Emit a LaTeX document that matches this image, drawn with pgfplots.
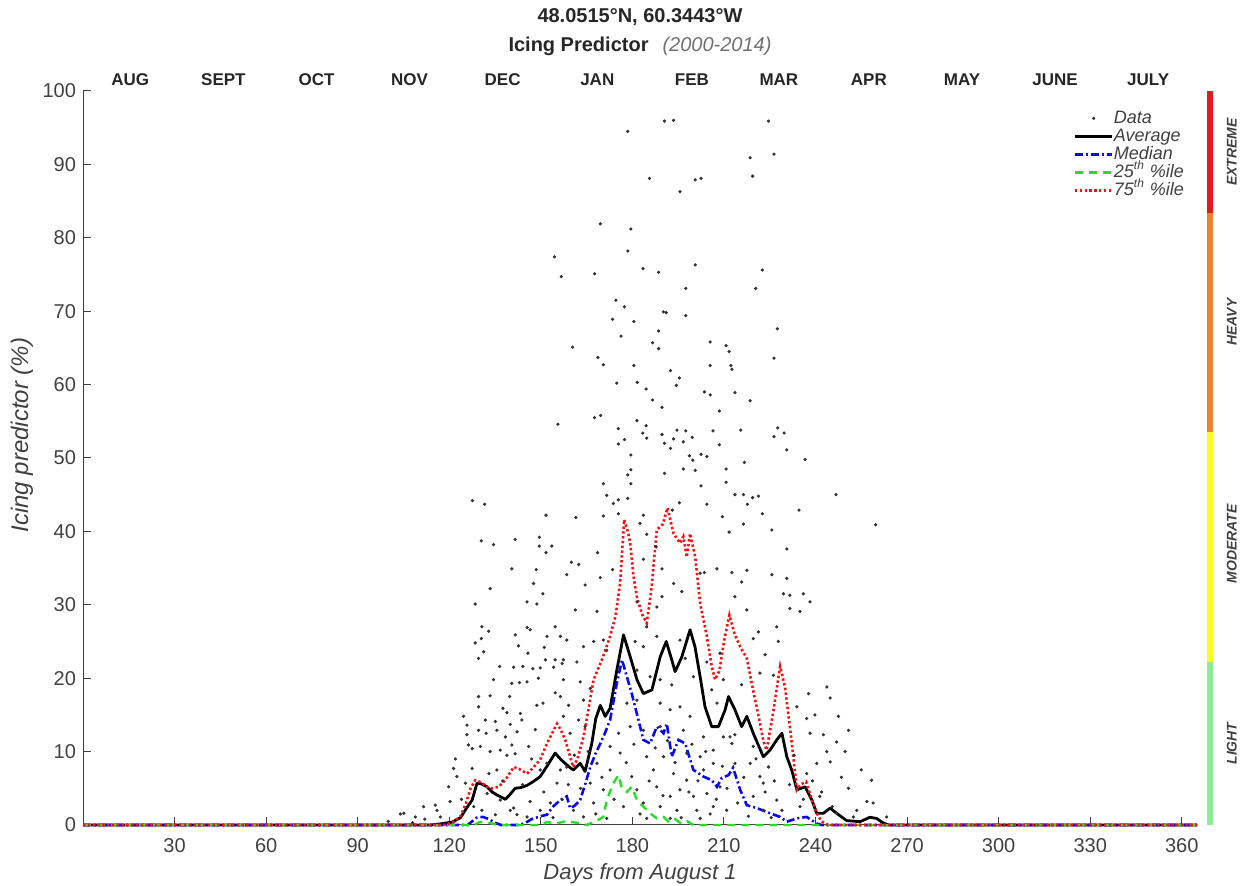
\documentclass[border=0pt]{standalone}
\usepackage{pgfplots}
\pgfplotsset{compat=1.18}
\usepackage{pgfplotstable}
\usepackage{fontspec}
\setmainfont{Liberation Sans}
\definecolor{tickgray}{RGB}{64,64,64}
\definecolor{barred}{RGB}{228,26,28}
\definecolor{barorange}{RGB}{240,130,45}
\definecolor{baryellow}{RGB}{250,250,40}
\definecolor{bargreen}{RGB}{140,235,150}
\definecolor{medblue}{RGB}{10,10,235}
\definecolor{pgreen}{RGB}{40,220,40}
\definecolor{pred}{RGB}{240,20,20}

\pgfplotstableread{
d v
178.5 94.5
190.5 95.9
193.5 96.0
224.6 95.9
218.6 90.9
226.4 91.4
185.6 88.1
200.6 87.9
202.5 88.1
219.4 88.4
195.6 86.3
169.5 81.9
179.5 81.2
178.5 78.2
154.5 77.4
156.7 74.7
167.6 75.1
183.5 75.8
188.6 75.3
200.6 76.3
222.6 75.6
197.5 73.1
220.4 73.1
174.6 71.5
177.4 70.6
190.2 69.9
191.1 69.8
197.5 69.4
173.5 68.9
180.5 68.6
188.6 67.3
227.5 67.6
176.3 66.6
160.4 65.1
186.6 65.7
188.6 64.9
205.5 65.8
210.7 65.3
211.7 64.5
168.7 63.7
170.5 62.7
180.5 62.6
205.5 62.6
212.3 62.6
212.6 62.1
226.4 63.6
192.5 61.9
195.4 60.9
174.9 60.2
181.6 60.3
194.4 59.9
184.5 59.4
203.6 59.0
205.5 58.6
213.6 58.9
186.6 57.9
218.6 57.8
189.7 56.9
208.5 56.4
167.6 55.5
169.6 55.8
181.5 55.1
155.6 54.6
184.5 54.4
175.4 54.0
194.6 53.8
197.5 53.7
206.4 53.7
215.5 53.8
227.6 54.1
229.7 53.4
183.4 53.4
189.7 53.2
226.4 52.9
184.7 52.7
193.5 52.6
199.6 52.8
177.4 52.5
175.4 51.9
190.5 52.0
196.7 52.2
192.5 51.3
208.5 51.8
230.6 51.1
179.5 50.4
198.7 50.3
202.5 50.5
204.4 50.2
199.8 49.7
236.6 49.8
216.7 49.4
179.5 48.4
196.7 48.5
200.6 48.3
210.7 48.5
178.5 47.7
190.5 47.9
210.7 46.7
170.5 46.5
179.5 46.5
202.5 46.2
127.6 44.2
131.6 43.7
171.6 44.9
175.4 44.3
178.5 44.5
213.6 45.0
216.4 45.0
219.4 44.6
221.3 44.8
246.7 45.0
173.8 43.8
204.4 43.7
217.7 43.7
195.4 43.9
193.1 42.9
151.7 42.2
161.5 41.9
170.5 42.1
175.4 42.4
183.6 42.2
209.5 42.0
222.6 42.4
234.6 42.9
182.5 41.1
216.4 41.0
259.7 40.9
225.7 40.2
211.7 39.9
130.5 38.7
134.5 38.2
141.6 38.9
149.5 39.2
149.5 38.0
153.6 38.0
184.7 39.6
187.8 37.9
230.6 37.6
151.7 37.1
168.6 37.1
183.6 36.2
160.0 35.8
162.4 35.5
189.7 34.9
140.5 34.9
148.5 34.8
207.7 34.9
212.6 34.4
217.5 34.7
225.7 34.1
230.6 33.6
158.5 34.1
169.5 33.7
173.5 34.8
202.2 34.3
203.6 34.4
133.4 32.2
147.6 32.9
150.7 31.5
128.5 30.1
145.5 30.4
148.7 30.1
130.7 27.0
132.9 26.4
145.5 26.9
146.5 26.6
141.6 25.9
154.7 27.0
152.0 25.7
156.4 25.7
158.5 25.2
128.5 24.8
130.5 25.4
131.3 23.6
129.6 22.7
142.7 24.4
151.1 24.2
145.8 23.4
151.5 22.5
154.7 22.5
157.4 22.5
136.5 21.6
141.1 21.5
144.1 21.6
147.4 21.3
149.8 21.4
154.2 21.5
134.5 19.8
140.5 19.3
143.0 19.4
145.5 19.5
149.2 20.0
157.4 19.8
129.6 17.5
133.4 17.6
139.8 17.5
148.7 16.3
150.7 16.6
154.7 18.0
156.4 17.5
124.7 14.8
129.6 16.1
137.6 15.9
138.9 15.3
143.3 15.2
125.8 13.6
131.8 14.3
135.1 14.1
140.0 13.7
143.8 14.3
125.8 12.3
129.6 12.9
132.1 12.5
135.6 12.9
138.4 12.0
142.2 12.7
148.2 13.0
126.3 10.9
127.5 10.4
130.2 10.7
133.4 10.0
136.7 10.2
140.5 10.9
146.0 10.7
121.4 7.7
127.5 7.7
135.6 7.5
138.9 9.5
141.6 9.7
122.5 6.6
119.8 5.2
125.3 5.7
132.4 4.3
136.7 3.4
140.0 2.0
141.1 2.3
146.5 3.2
120.3 3.2
111.6 2.5
115.4 2.7
116.0 2.0
105.1 1.6
108.9 1.1
117.1 1.1
130.7 2.0
135.1 1.4
142.2 1.4
145.5 1.1
149.8 2.0
153.1 3.0
155.3 5.7
156.4 7.5
158.5 7.9
149.8 7.5
152.0 8.4
164.5 32.7
168.4 29.1
161.3 29.3
164.0 24.3
167.3 25.0
157.0 22.0
161.8 22.2
171.6 23.8
170.5 25.2
162.9 19.5
166.2 18.6
164.0 17.0
159.1 16.3
157.4 14.8
162.4 14.3
164.5 13.4
159.6 12.5
181.5 30.4
188.0 29.7
189.7 31.1
193.5 32.9
196.2 31.8
184.7 27.0
183.6 24.3
180.9 25.0
188.0 25.7
195.6 25.2
197.3 22.7
204.4 22.2
208.7 23.4
181.5 21.1
185.8 20.2
189.1 19.8
192.9 19.1
200.0 20.2
206.0 18.4
209.8 19.8
178.2 16.6
181.5 17.0
189.1 16.6
192.4 15.7
195.6 16.1
198.9 14.8
207.7 16.6
179.3 13.4
183.6 12.9
189.1 13.4
196.7 12.9
203.3 12.0
209.8 12.0
172.7 10.7
176.0 9.8
184.7 9.3
190.2 9.3
197.8 9.8
202.2 9.3
206.5 10.2
168.4 8.4
172.7 7.5
179.8 6.6
186.9 7.5
193.5 7.0
197.8 6.1
203.3 7.5
206.5 8.4
166.2 5.7
170.5 4.8
181.5 4.8
188.0 5.2
192.4 3.9
195.6 4.8
200.0 3.9
204.4 4.3
208.7 5.2
160.7 2.0
167.3 3.0
177.1 2.5
183.6 3.0
189.1 2.5
194.6 2.0
201.1 2.0
206.5 2.5
164.0 1.1
171.6 0.9
184.7 0.9
192.4 0.9
202.2 0.9
215.8 33.1
213.6 31.1
229.5 31.5
231.6 31.3
236.0 31.5
238.2 30.4
217.5 29.3
231.6 29.5
234.9 29.1
227.3 27.0
221.3 26.3
219.6 25.4
227.8 25.0
223.5 23.2
221.8 20.7
226.2 20.4
243.7 18.8
215.8 19.1
244.8 17.3
237.7 17.9
233.9 16.1
239.8 15.0
237.1 14.5
247.5 14.8
238.2 12.5
242.6 12.3
250.8 12.9
246.9 11.3
212.0 12.0
213.6 12.3
212.6 11.1
219.6 10.7
243.7 10.0
249.7 10.0
213.6 8.4
218.6 8.4
224.6 7.9
240.4 8.4
244.8 8.6
221.8 6.6
222.9 5.7
237.1 7.0
258.4 6.1
241.4 3.9
250.8 5.0
219.6 3.9
227.3 3.4
234.9 2.5
256.8 3.2
258.9 3.0
210.9 2.0
222.9 2.0
246.9 1.6
252.4 1.1
263.3 1.1
100.0 0.5
104.0 1.5
112.0 0.8
108.0 0.3
122.0 9.0
124.0 3.5
128.0 2.5
133.0 7.0
137.5 6.0
144.0 5.5
147.0 9.0
151.0 4.5
154.0 1.0
157.0 3.5
159.0 5.5
161.0 9.5
163.0 5.0
165.5 10.0
168.0 1.5
170.0 6.5
174.0 3.5
175.5 12.5
178.0 8.5
180.5 11.0
182.5 1.5
185.5 6.0
187.5 10.5
190.0 4.0
191.5 11.5
194.0 8.5
196.0 1.0
198.5 4.5
199.5 11.0
201.5 6.0
204.0 10.0
205.5 1.5
207.5 3.5
209.5 8.0
211.0 5.0
214.5 3.0
216.5 6.5
218.0 1.2
220.5 9.0
223.5 4.5
225.5 1.0
226.5 6.0
229.0 2.0
231.5 5.5
233.0 9.5
236.0 3.5
239.0 6.0
242.0 4.5
245.5 2.5
248.5 6.5
253.5 2.0
255.0 7.5
}\scatterdata

\begin{document}
\begin{tikzpicture}
\begin{axis}[
  at={(0,0)}, anchor=south west,
  scale only axis, width=557pt, height=367pt,
  xmin=0, xmax=365, ymin=0, ymax=100,
  axis x line*=bottom, axis y line*=left,
  axis line style={tickgray, line width=0.5pt},
  xtick={30,60,...,360}, ytick={0,10,...,100},
  tick align=inside, major tick length=4pt,
  tick style={tickgray, line width=0.5pt},
  ticklabel style={font=\fontsize{10}{12}\selectfont, text=tickgray},
  xticklabel style={yshift=-3pt},
  /pgf/number format/assume math mode=true,
  xlabel={Days from August 1}, ylabel={Icing predictor (\%)},
  label style={font=\itshape\fontsize{11}{13}\selectfont, text=tickgray},
  xlabel style={at={(axis description cs:0.5,0)}, anchor=base, yshift=-27.5pt},
  ylabel style={at={(axis description cs:-0.0548,0.531)}, anchor=center, font=\itshape\fontsize{12}{14}\selectfont},
  clip=false,
  legend cell align=left,
  legend style={at={(0.994,0.981)}, anchor=north east, draw=none, fill=none,
    font=\itshape\fontsize{9}{9}\selectfont, text=tickgray,
    nodes={inner sep=0pt, text height=7pt, text depth=2pt},
    row sep=0pt, /tikz/every even column/.append style={column sep=1pt}},
  legend image code/.code={\draw[mark repeat=2,mark phase=2,#1] plot coordinates {(0cm,0cm) (0.33cm,0cm) (0.66cm,0cm)};},
]
\addplot[only marks, mark=*, mark size=0.6pt, black!80] table {\scatterdata};
\addlegendentry{Data}

\addplot[black, line width=1.4pt, line join=round] coordinates {
(0,0) (114,0) (118,0.2) (121,0.4) (123.7,1.0) (125.5,2.2) (127.5,3.4) (129.1,5.7) (130.5,5.6) (132.4,5.2) (134,4.5) (135.6,4.1) (137,3.8) (138.4,3.5) (140,4.2) (141.6,5.0) (143.5,5.1) (145.5,5.4) (147.5,5.9) (149.8,6.6) (152,8.0) (154.7,9.8) (156.4,9.0) (157.4,8.6) (159.6,7.8) (160.7,7.5) (162.9,8.4) (164.5,7.3) (166.7,11.1) (168,14.5) (169.5,16.3) (171.1,14.8) (172.7,15.9) (174.9,21.1) (177.1,25.9) (179.3,22.9) (181.5,19.8) (183.6,17.9) (186.4,18.4) (189.1,22.9) (191.1,25.0) (192.9,22.5) (194.0,20.9) (196.2,22.9) (198.9,26.6) (200.5,24.3) (202.2,20.2) (203.8,16.1) (206.0,13.4) (208.2,13.4) (210.4,15.7) (211.5,17.5) (213.6,15.7) (215.8,13.4) (217.5,14.8) (219.6,12.5) (222.9,9.3) (225.1,10.2) (227.3,11.6) (229.0,12.5) (230.6,9.3) (232.2,7.5) (233.9,4.8) (236.6,5.2) (238.8,3.4) (240.4,1.6) (242.6,1.6) (244.8,2.3) (246.9,1.6) (250.2,0.6) (254.6,0.45) (257.8,1.05) (260.0,0.9) (262.1,0.3) (264,0) (365,0)
};
\addlegendentry{Average}

\addplot[medblue, line width=1.3pt, dash pattern=on 4pt off 1.5pt on 1pt off 1.5pt] coordinates {
(0,0) (126,0) (127.5,0.5) (129,1.0) (131,1.1) (133,0.8) (135,0.3) (137,0) (143,0) (145,0.3) (147,0.8) (150,1.2) (152,1.4) (154,2.5) (156.4,3.4) (158.5,3.9) (159.6,2.3) (161,2.6) (162.9,3.4) (164.5,5.5) (166.2,7.9) (168,9.8) (169.5,11.1) (171,12.5) (172.7,14.3) (174.9,19.3) (176.6,22.5) (178.2,20.2) (179.8,17.9) (182,14.3) (183.6,11.6) (185.8,11.1) (188,13.4) (190.2,12.5) (191.3,13.8) (192.9,9.3) (195.1,11.6) (197.3,11.1) (200,7.5) (203.3,6.6) (206,6.1) (207.7,5.2) (209.3,6.4) (211.5,6.8) (213,7.8) (215.3,4.8) (217.5,2.7) (220.8,2.3) (225.1,1.6) (228.4,1.1) (230.6,0.45) (233.9,0.9) (237.1,1.1) (240.4,0.2) (242,0) (365,0)
};
\addlegendentry{Median}

\addplot[pgreen, line width=1.2pt, dash pattern=on 4pt off 3pt] coordinates {
(0,0) (128,0) (130,0.4) (133,0.3) (136,0) (150,0) (152,0.4) (155,0.2) (158,0.5) (162,0.3) (165,0) (168,0.5) (170.5,1.1) (171.6,3.4) (173.8,5.7) (175.4,6.8) (176.6,5.0) (178.2,4.5) (179.8,5.2) (181.5,3.4) (183.6,2.5) (185.8,1.6) (188,0.9) (190.2,1.1) (192,0.4) (194,0.8) (196,0.2) (198,0.5) (200,0) (365,0)
};
\addlegendentry{25\textsuperscript{th} \%ile}

\addplot[pred, line width=1.3pt, dash pattern=on 1.2pt off 1.2pt] coordinates {
(0,0) (118,0) (121,0.3) (123.7,1.2) (125.5,3.0) (127,5.0) (128.5,6.1) (130.5,5.8) (132.4,5.2) (134,5.0) (136.2,5.2) (138.5,6.2) (141.1,7.9) (143,7.6) (145.5,7.0) (147.5,7.8) (149.8,8.9) (152,11.1) (155.3,13.8) (156.5,13.0) (158,11.6) (160.6,7.9) (162,9.0) (164,12.0) (165.5,15.5) (167.3,19.8) (170,22.5) (172.7,25.7) (174.5,28.5) (176,33.0) (177.3,41.6) (178.5,40.0) (179.3,38.4) (180.4,33.8) (181.5,31.0) (183.1,28.8) (184.7,27.5) (186.2,32.0) (188,40.2) (190,41.0) (191.5,43.2) (193.5,39.7) (195.6,38.4) (196.7,39.3) (197.8,36.5) (198.9,39.7) (200.6,36.5) (202.2,30.2) (204.4,25.7) (206,21.6) (207.1,19.8) (208.5,21.0) (210,25.0) (211.8,28.6) (213.5,26.0) (215.3,24.3) (217.5,22.7) (219.5,18.5) (221.5,14.5) (222.9,11.5) (224,10.2) (226,15.0) (228.4,21.6) (230,18.8) (232,12.0) (233.9,4.8) (235,5.5) (236.9,5.9) (238.8,3.5) (240.4,1.6) (242,0.5) (244,0) (365,0)
};
\addlegendentry{75\textsuperscript{th} \%ile}

% severity bar
\draw[barred, line width=3pt] (axis cs:369.2,83.4) -- (axis cs:369.2,100);
\draw[barorange, line width=3pt] (axis cs:369.2,53.5) -- (axis cs:369.2,83.4);
\draw[baryellow, line width=3pt] (axis cs:369.2,22.2) -- (axis cs:369.2,53.5);
\draw[bargreen, line width=3pt] (axis cs:369.2,0) -- (axis cs:369.2,22.2);
\tikzset{sev/.style={rotate=90, font=\bfseries\itshape\fontsize{7}{8}\selectfont, text=tickgray}}
\node[sev] at (axis cs:376.4,91.7) {EXTREME};
\node[sev] at (axis cs:376.4,68.5) {HEAVY};
\node[sev] at (axis cs:376.4,38.3) {MODERATE};
\node[sev] at (axis cs:376.4,11.1) {LIGHT};

% month labels
\tikzset{mon/.style={font=\bfseries\fontsize{8.5}{10}\selectfont, text=black!85, yshift=5.5pt}}
\node[mon] at (axis cs:15.5,100) {AUG};
\node[mon] at (axis cs:46,100) {SEPT};
\node[mon] at (axis cs:76.5,100) {OCT};
\node[mon] at (axis cs:107,100) {NOV};
\node[mon] at (axis cs:137.5,100) {DEC};
\node[mon] at (axis cs:168.5,100) {JAN};
\node[mon] at (axis cs:199.5,100) {FEB};
\node[mon] at (axis cs:228,100) {MAR};
\node[mon] at (axis cs:257.5,100) {APR};
\node[mon] at (axis cs:288,100) {MAY};
\node[mon] at (axis cs:318.5,100) {JUNE};
\node[mon] at (axis cs:349,100) {JULY};

% title
\node[font=\bfseries\fontsize{10}{12}\selectfont, text=black!85] at (rel axis cs:0.5,1) [yshift=37pt] {48.0515°N, 60.3443°W};
\node[font=\fontsize{10}{12}\selectfont, text=black!85] at (rel axis cs:0.5,1) [yshift=22.5pt] {\textbf{Icing Predictor}\hspace{0.7em}{\itshape\color{tickgray!75}(2000-2014)}};
\end{axis}
\pgfresetboundingbox
\useasboundingbox (-41.5pt,-30.5pt) rectangle (581.5pt,412.5pt);
\end{tikzpicture}
\end{document}
